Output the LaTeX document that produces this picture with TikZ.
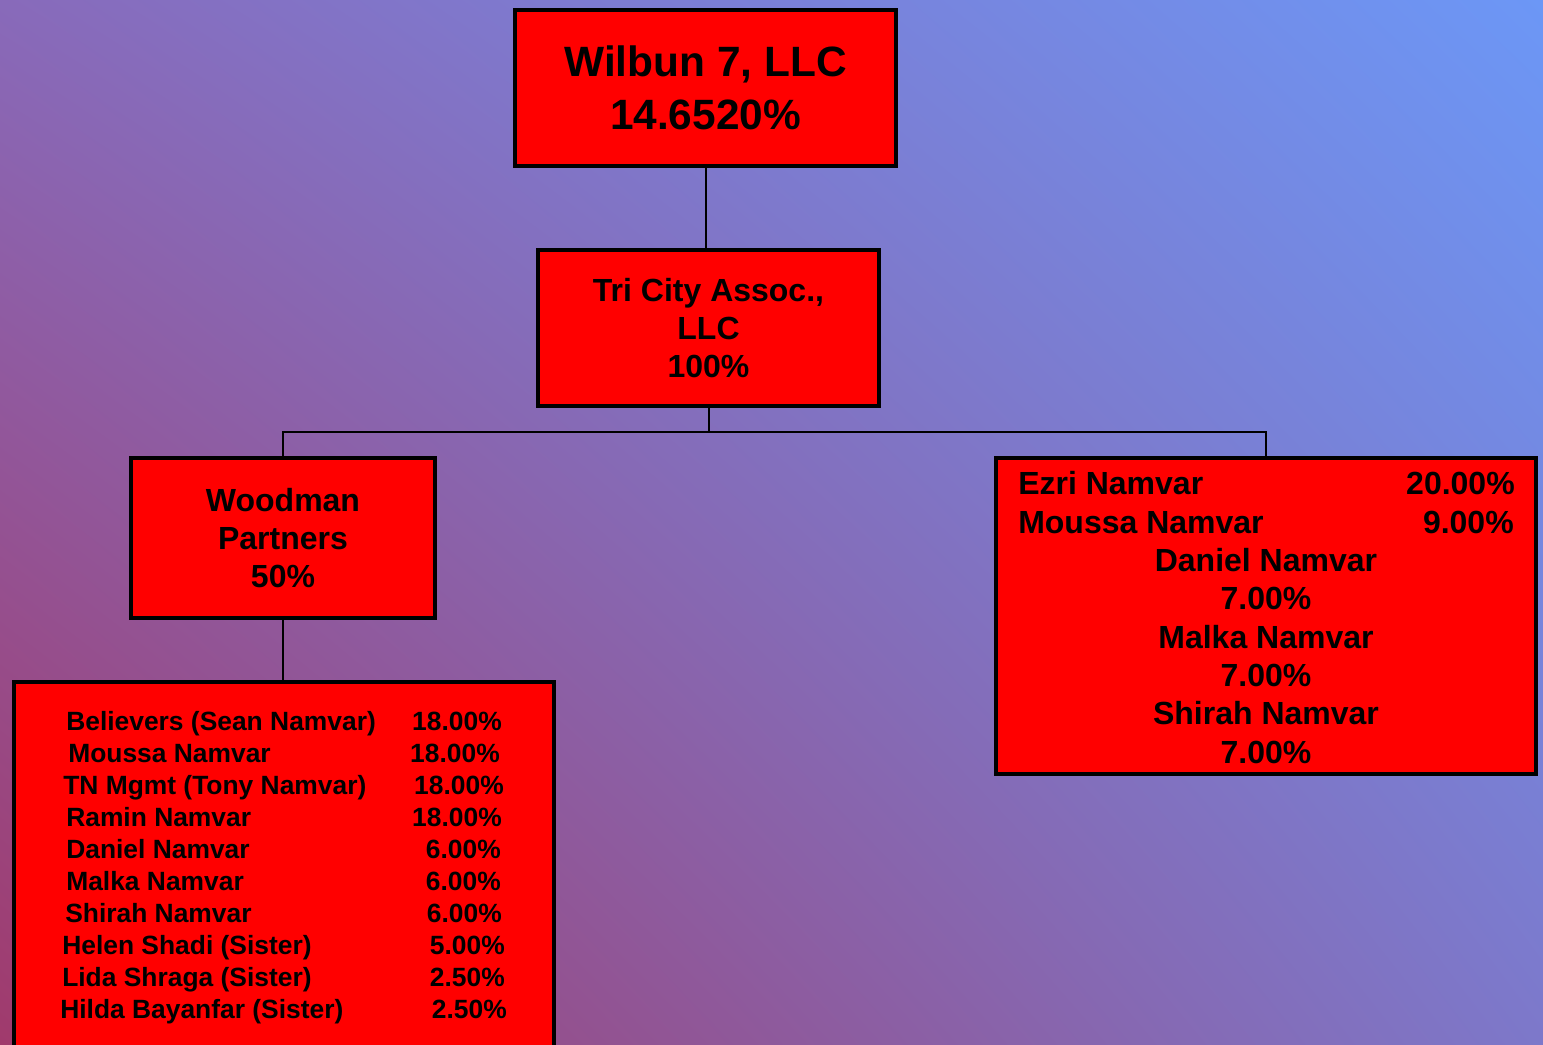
\documentclass[tikz,border=0pt]{standalone}
\usepackage{fontspec}
\usetikzlibrary{shadings}
\setmainfont{Liberation Sans}
\definecolor{bgUL}{RGB}{136,106,186}
\definecolor{bgUR}{RGB}{108,151,246}
\definecolor{bgLL}{RGB}{160,58,108}
\definecolor{bgLR}{RGB}{125,120,202}
\definecolor{boxred}{RGB}{255,0,0}
\tikzset{
  box/.style={draw=black, fill=boxred, line width=3pt, inner sep=0pt, align=center},
  conn/.style={draw=black, line width=1.5pt},
  midtxt/.style={font=\fontsize{24pt}{28.8pt}\selectfont\bfseries},
  rowtxt/.style={inner sep=0pt, text height=17.2pt, text depth=0pt, font=\fontsize{24pt}{28.8pt}\selectfont\bfseries},
  listtxt/.style={inner sep=0pt, text height=14.2pt, text depth=0pt, font=\fontsize{19.8pt}{24pt}\selectfont\bfseries}
}
\begin{document}
\begin{tikzpicture}[x=0.75pt,y=-0.75pt]
\useasboundingbox (0,0) rectangle (1543,1045);
\clip (0,0) rectangle (1543,1045);
\shade[upper left=bgUL, upper right=bgUR, lower left=bgLL, lower right=bgLR] (0,0) rectangle (1543,1045);

% top box
\node[box, minimum width=285.75pt, minimum height=117pt,
      font=\fontsize{31.8pt}{39.75pt}\selectfont\bfseries] (wil) at (705.5,88)
      {Wilbun 7, LLC\\14.6520\%};

\node[box, midtxt, minimum width=255.75pt, minimum height=117pt] (tri) at (708.5,328)
      {Tri City Assoc.,\\LLC\\100\%};

\node[box, midtxt, minimum width=228pt, minimum height=120pt] (wood) at (283,538)
      {Woodman\\Partners\\50\%};

\node[box, minimum width=405pt, minimum height=237pt] (rbox) at (1266,616) {};

\node[box, minimum width=405pt, minimum height=300pt, anchor=north] (lbox) at (284,679.5) {};

% connectors
\coordinate (bus) at (708,432);
\draw[conn] (wil.south) -- (wil.south |- tri.north);
\draw[conn] (tri.south) -- (tri.south |- bus);
\draw[conn] (wood.north) -- (wood.north |- bus) -- (rbox.north |- bus) -- (rbox.north);
\draw[conn] (wood.south) -- (wood.south |- lbox.north);

% right box text
\node[rowtxt, anchor=west] (r1n) at (1018,483) {Ezri Namvar};
\node[rowtxt, anchor=east] (r1p) at (1515,483) {20.00\%};
\node[rowtxt, anchor=west] (r2n) at (1018,522) {Moussa Namvar};
\node[rowtxt, anchor=east] (r2p) at (1514,522) {9.00\%};
\node[rowtxt] (r3n) at (1266,560) {Daniel Namvar};
\node[rowtxt] (r3p) at (1266,598) {7.00\%};
\node[rowtxt] (r4n) at (1266,637) {Malka Namvar};
\node[rowtxt] (r4p) at (1266,675) {7.00\%};
\node[rowtxt] (r5n) at (1266,713) {Shirah Namvar};
\node[rowtxt] (r5p) at (1266,752) {7.00\%};

% left list
\node[listtxt, anchor=west] (l1n) at (66,721) {Believers (Sean Namvar)};
\node[listtxt, anchor=east] (l1p) at (502,721) {18.00\%};
\node[listtxt, anchor=west] (l2n) at (68,753) {Moussa Namvar};
\node[listtxt, anchor=east] (l2p) at (500,753) {18.00\%};
\node[listtxt, anchor=west] (l3n) at (63,785) {TN Mgmt (Tony Namvar)};
\node[listtxt, anchor=east] (l3p) at (504,785) {18.00\%};
\node[listtxt, anchor=west] (l4n) at (66,817) {Ramin Namvar};
\node[listtxt, anchor=east] (l4p) at (502,817) {18.00\%};
\node[listtxt, anchor=west] (l5n) at (66,849) {Daniel Namvar};
\node[listtxt, anchor=east] (l5p) at (501,849) {6.00\%};
\node[listtxt, anchor=west] (l6n) at (66,881) {Malka Namvar};
\node[listtxt, anchor=east] (l6p) at (501,881) {6.00\%};
\node[listtxt, anchor=west] (l7n) at (65,913) {Shirah Namvar};
\node[listtxt, anchor=east] (l7p) at (502,913) {6.00\%};
\node[listtxt, anchor=west] (l8n) at (62,945) {Helen Shadi (Sister)};
\node[listtxt, anchor=east] (l8p) at (505,945) {5.00\%};
\node[listtxt, anchor=west] (l9n) at (62,977) {Lida Shraga (Sister)};
\node[listtxt, anchor=east] (l9p) at (505,977) {2.50\%};
\node[listtxt, anchor=west] (l10n) at (60,1009) {Hilda Bayanfar (Sister)};
\node[listtxt, anchor=east] (l10p) at (507,1009) {2.50\%};
\end{tikzpicture}
\end{document}
